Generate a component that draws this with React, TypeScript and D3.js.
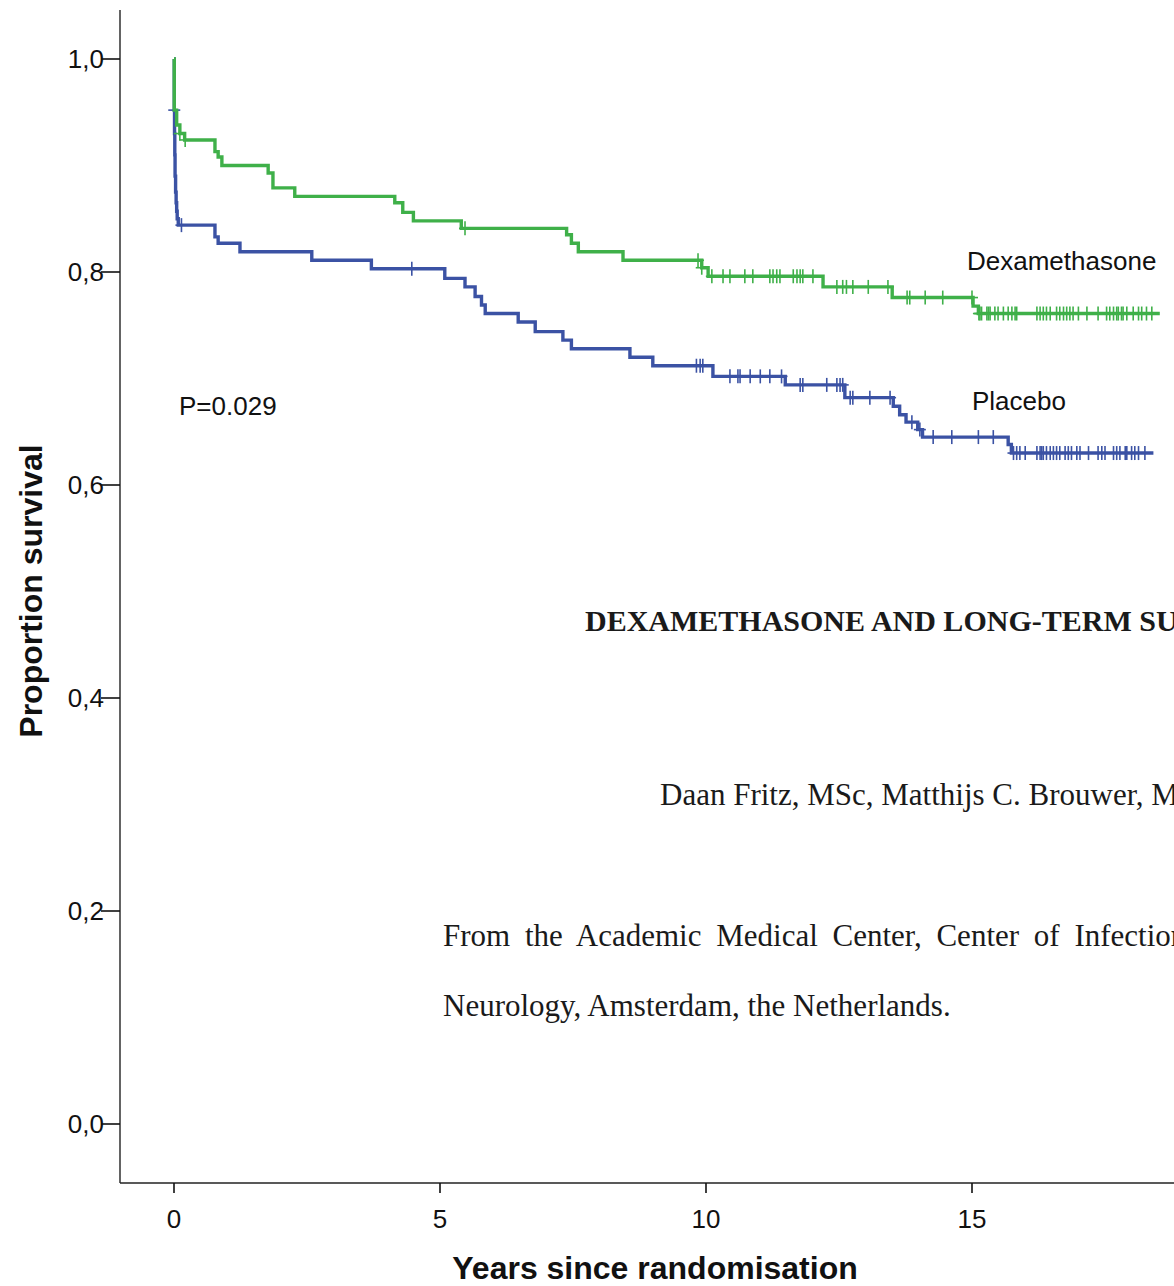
import React from "react";
import * as d3 from "d3";

// ---- Data ----
const yTicks = [0, 0.2, 0.4, 0.6, 0.8, 1.0];
const xTicks = [0, 5, 10, 15];

// Dexamethasone: step times (years) and survival after each step
const dexStepTimes = [0.005, 0.05, 0.11, 0.2, 0.77, 0.83, 0.9, 1.77, 1.86, 2.27, 4.15, 4.3, 4.5, 5.4, 7.38, 7.47, 7.6, 8.44, 9.92, 10.04, 12.2, 13.5, 15.02, 15.12];
const dexStepSurv = [0.952, 0.938, 0.93, 0.924, 0.913, 0.908, 0.9, 0.893, 0.879, 0.871, 0.865, 0.856, 0.848, 0.841, 0.835, 0.827, 0.819, 0.811, 0.804, 0.796, 0.786, 0.776, 0.768, 0.761];
const dexEnd = 18.53;
const dexCensored = [0.11, 0.21, 5.47, 9.85, 9.92, 10.11, 10.32, 10.45, 10.73, 10.88, 11.2, 11.26, 11.33, 11.39, 11.64, 11.71, 11.77, 11.82, 12.01, 12.46, 12.57, 12.64, 12.76, 13.05, 13.42, 13.78, 13.83, 14.12, 14.45, 15.0, 15.13, 15.15, 15.18, 15.28, 15.31, 15.34, 15.43, 15.49, 15.59, 15.68, 15.75, 15.81, 15.84, 16.22, 16.28, 16.34, 16.4, 16.47, 16.59, 16.65, 16.72, 16.78, 16.84, 16.9, 17.0, 17.16, 17.37, 17.53, 17.59, 17.66, 17.72, 17.75, 17.81, 17.84, 17.91, 18.03, 18.13, 18.19, 18.28, 18.38];

// Placebo
const plaStepTimes = [0.005, 0.01, 0.015, 0.02, 0.03, 0.04, 0.05, 0.06, 0.08, 0.77, 0.83, 1.24, 2.59, 3.71, 5.09, 5.47, 5.66, 5.78, 5.85, 6.47, 6.79, 7.31, 7.47, 8.57, 9.0, 10.13, 11.49, 12.61, 13.52, 13.64, 13.76, 13.98, 14.07, 15.68, 15.74];
const plaStepSurv = [0.952, 0.93, 0.91, 0.89, 0.875, 0.865, 0.857, 0.85, 0.844, 0.833, 0.827, 0.819, 0.811, 0.803, 0.794, 0.786, 0.777, 0.769, 0.761, 0.753, 0.744, 0.736, 0.728, 0.72, 0.712, 0.702, 0.694, 0.682, 0.674, 0.666, 0.659, 0.652, 0.645, 0.638, 0.63];
const plaEnd = 18.41;
const plaCensored = [0.005, 0.14, 4.47, 9.82, 9.89, 9.94, 10.45, 10.6, 10.64, 10.83, 11.02, 11.2, 11.42, 11.77, 11.82, 12.27, 12.46, 12.52, 12.57, 12.71, 12.76, 13.08, 13.46, 13.87, 14.02, 14.27, 14.62, 15.12, 15.4, 15.78, 15.84, 15.9, 16.0, 16.22, 16.28, 16.31, 16.34, 16.4, 16.47, 16.53, 16.59, 16.65, 16.75, 16.81, 16.87, 16.97, 17.03, 17.19, 17.37, 17.44, 17.5, 17.66, 17.72, 17.78, 17.88, 17.91, 18.0, 18.06, 18.13, 18.25];

const seriesNames = ["Dexamethasone", "Placebo"];
const pValueLabel = "P=0.029";

const GREEN = "#3fb049";
const BLUE = "#3b52a4";

function stepPoints(times: number[], surv: number[], end: number): [number, number][] {
  const pts: [number, number][] = [[0, 1]];
  times.forEach((t, i) => pts.push([t, surv[i]]));
  pts.push([end, surv[surv.length - 1]]);
  return pts;
}

function survAt(times: number[], surv: number[], t: number): number {
  let s = 1;
  for (let i = 0; i < times.length; i++) {
    if (times[i] <= t) s = surv[i];
    else break;
  }
  return s;
}

export default function App() {
  const W = 1174;
  const H = 1286;
  const x = d3.scaleLinear().domain([0, 15]).range([174, 972]);
  const y = d3.scaleLinear().domain([0, 1]).range([1124, 59]);
  const axisLeft = 120;
  const axisBottom = 1183;

  const line = d3
    .line<[number, number]>()
    .x((d) => x(d[0]))
    .y((d) => y(d[1]))
    .curve(d3.curveStepAfter);

  const dexPts = stepPoints(dexStepTimes, dexStepSurv, dexEnd);
  const plaPts = stepPoints(plaStepTimes, plaStepSurv, plaEnd);

  const sans = "Arial, 'Liberation Sans', Helvetica, sans-serif";
  const serif = "'Times New Roman', 'Liberation Serif', Times, serif";

  const censorMarks = (times: number[], st: number[], sv: number[], color: string) =>
    times.map((t, i) => {
      const cx = x(t);
      const cy = y(survAt(st, sv, t));
      return (
        <g key={i} stroke={color} strokeWidth={1.6}>
          <line x1={cx} x2={cx} y1={cy - 7} y2={cy + 7} />
          <line x1={cx - 6} x2={cx + 6} y1={cy} y2={cy} />
        </g>
      );
    });

  return (
    <svg
      width={W}
      height={H}
      viewBox={`0 0 ${W} ${H}`}
      style={{ position: "absolute", left: 0, top: 0, background: "#fff" }}
    >
      <rect x={0} y={0} width={W} height={H} fill="#fff" />

      {/* axes */}
      <line x1={axisLeft} x2={axisLeft} y1={10} y2={axisBottom} stroke="#222" strokeWidth={1.4} />
      <line x1={axisLeft} x2={W} y1={axisBottom} y2={axisBottom} stroke="#222" strokeWidth={1.4} />

      {yTicks.map((t) => (
        <g key={t}>
          <line x1={101} x2={axisLeft} y1={y(t)} y2={y(t)} stroke="#111" strokeWidth={1.6} />
          <text x={104} y={y(t) + 9} textAnchor="end" fontFamily={sans} fontSize={26} fill="#111">
            {t.toFixed(1).replace(".", ",")}
          </text>
        </g>
      ))}
      {xTicks.map((t) => (
        <g key={t}>
          <line x1={x(t)} x2={x(t)} y1={axisBottom} y2={axisBottom + 10} stroke="#111" strokeWidth={1.6} />
          <text x={x(t)} y={1228} textAnchor="middle" fontFamily={sans} fontSize={26} fill="#111">
            {t}
          </text>
        </g>
      ))}

      <text x={655} y={1279} textAnchor="middle" fontFamily={sans} fontWeight="bold" fontSize={32} fill="#111">
        Years since randomisation
      </text>
      <text
        transform={`translate(42,591) rotate(-90)`}
        textAnchor="middle"
        fontFamily={sans}
        fontWeight="bold"
        fontSize={32}
        fill="#111"
      >
        Proportion survival
      </text>

      {/* overlay document text */}
      <text x={585} y={631} fontFamily={serif} fontWeight="bold" fontSize={30} fill="#1a1a1a">
        DEXAMETHASONE AND LONG-TERM SURVIVAL
      </text>
      <text x={660} y={805} fontFamily={serif} fontSize={31} fill="#1a1a1a">
        Daan Fritz, MSc, Matthijs C. Brouwer, MD
      </text>
      <text x={443} y={946} fontFamily={serif} fontSize={31} fill="#1a1a1a" wordSpacing={7}>
        From the Academic Medical Center, Center of Infection
      </text>
      <text x={443} y={1016} fontFamily={serif} fontSize={31} fill="#1a1a1a">
        Neurology, Amsterdam, the Netherlands.
      </text>

      {/* curves */}
      <path d={line(plaPts) || ""} fill="none" stroke={BLUE} strokeWidth={3.4} />
      {censorMarks(plaCensored, plaStepTimes, plaStepSurv, BLUE)}
      <path d={line(dexPts) || ""} fill="none" stroke={GREEN} strokeWidth={3.4} />
      {censorMarks(dexCensored, dexStepTimes, dexStepSurv, GREEN)}

      <text x={967} y={270} fontFamily={sans} fontSize={26} fill="#111">
        {seriesNames[0]}
      </text>
      <text x={972} y={410} fontFamily={sans} fontSize={26} fill="#111">
        {seriesNames[1]}
      </text>
      <text x={179} y={415} fontFamily={sans} fontSize={26} fill="#111">
        {pValueLabel}
      </text>
    </svg>
  );
}
